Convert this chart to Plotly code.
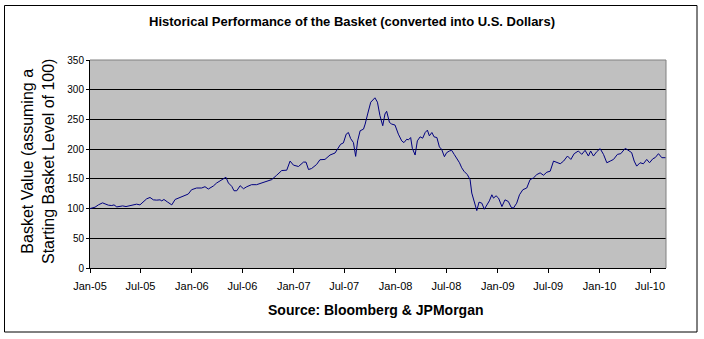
import plotly.graph_objects as go

dates = [
    "2005-01-01", "2005-01-19", "2005-01-31", "2005-02-15", "2005-02-24", "2005-03-08",
    "2005-03-20", "2005-03-28", "2005-04-07", "2005-04-19", "2005-04-28", "2005-05-10",
    "2005-05-24", "2005-06-05", "2005-06-17", "2005-06-29", "2005-07-11", "2005-07-23",
    "2005-08-04", "2005-08-16", "2005-08-28", "2005-09-09", "2005-09-15", "2005-09-23",
    "2005-10-05", "2005-10-21", "2005-11-02", "2005-11-14", "2005-12-02", "2005-12-19",
    "2005-12-31", "2006-01-18", "2006-02-05", "2006-02-17", "2006-03-01", "2006-03-19",
    "2006-03-31", "2006-04-18", "2006-05-03", "2006-05-12", "2006-05-24", "2006-06-01",
    "2006-06-11", "2006-06-23", "2006-07-05", "2006-07-17", "2006-08-03", "2006-08-21",
    "2006-09-08", "2006-09-26", "2006-10-14", "2006-11-01", "2006-11-19", "2006-12-07",
    "2006-12-19", "2006-12-31", "2007-01-18", "2007-02-05", "2007-02-14", "2007-02-23",
    "2007-03-06", "2007-03-24", "2007-04-05", "2007-04-23", "2007-05-11", "2007-05-29",
    "2007-06-10", "2007-06-18", "2007-06-28", "2007-07-08", "2007-07-16", "2007-07-24",
    "2007-08-03", "2007-08-11", "2007-08-18", "2007-08-27", "2007-09-08", "2007-09-14",
    "2007-09-23", "2007-10-04", "2007-10-19", "2007-10-28", "2007-11-06", "2007-11-16",
    "2007-11-24", "2007-11-30", "2007-12-10", "2007-12-18", "2007-12-30", "2008-01-11",
    "2008-01-23", "2008-01-31", "2008-02-10", "2008-02-16", "2008-02-24", "2008-03-01",
    "2008-03-11", "2008-03-19", "2008-03-29", "2008-04-07", "2008-04-16", "2008-04-24",
    "2008-05-01", "2008-05-10", "2008-05-18", "2008-05-28", "2008-06-06", "2008-06-14",
    "2008-06-24", "2008-07-02", "2008-07-12", "2008-07-20", "2008-07-29", "2008-08-07",
    "2008-08-17", "2008-08-25", "2008-09-02", "2008-09-14", "2008-09-24", "2008-09-30",
    "2008-10-08", "2008-10-18", "2008-10-26", "2008-11-05", "2008-11-14", "2008-11-23",
    "2008-12-02", "2008-12-11", "2008-12-17", "2008-12-26", "2009-01-04", "2009-01-16",
    "2009-01-27", "2009-02-08", "2009-02-18", "2009-02-26", "2009-03-10", "2009-03-20",
    "2009-04-01", "2009-04-15", "2009-04-27", "2009-05-09", "2009-05-21", "2009-06-02",
    "2009-06-14", "2009-06-26", "2009-07-08", "2009-07-20", "2009-08-01", "2009-08-13",
    "2009-08-25", "2009-09-08", "2009-09-20", "2009-10-02", "2009-10-17", "2009-10-29",
    "2009-11-10", "2009-11-22", "2009-11-30", "2009-12-10", "2009-12-22", "2010-01-03",
    "2010-01-15", "2010-01-27", "2010-02-08", "2010-02-20", "2010-03-06", "2010-03-18",
    "2010-04-03", "2010-04-15", "2010-04-26", "2010-05-05", "2010-05-14", "2010-05-26",
    "2010-06-07", "2010-06-19", "2010-06-29", "2010-07-11", "2010-07-19", "2010-07-31",
    "2010-08-12", "2010-08-26",
]

basket_values = [
    100.0, 102.3, 106.2, 109.6, 107.9, 105.7,
    105.1, 106.2, 102.8, 103.4, 104.5, 103.4,
    105.1, 106.2, 107.4, 106.2, 111.9, 116.4,
    118.7, 114.7, 114.2, 114.7, 113.0, 115.3,
    111.3, 106.2, 115.3, 117.6, 119.8, 124.4,
    131.7, 134.6, 134.6, 136.8, 132.9, 138.0,
    143.1, 148.2, 152.7, 143.1, 137.4, 130.0,
    130.0, 138.5, 133.4, 136.8, 140.2, 140.2,
    143.1, 145.9, 148.7, 156.1, 164.0, 164.6,
    179.9, 173.1, 170.8, 178.2, 178.2, 165.7,
    167.4, 174.2, 182.2, 182.7, 190.1, 193.5,
    201.4, 208.2, 210.5, 225.2, 228.0, 217.8,
    211.0, 187.8, 213.9, 230.9, 233.7, 242.2,
    259.2, 279.0, 286.4, 279.0, 256.4, 239.4,
    259.2, 263.7, 245.0, 242.2, 240.5, 225.2,
    213.9, 211.0, 216.7, 215.6, 219.5, 201.4,
    190.1, 213.9, 220.7, 218.4, 228.0, 232.0,
    222.4, 228.0, 220.7, 219.5, 203.7, 199.7,
    187.3, 194.1, 196.9, 198.0, 191.2, 184.4,
    177.1, 168.6, 162.9, 157.2, 148.7, 126.1,
    114.7, 96.6, 110.8, 109.1, 98.9, 106.2,
    113.0, 123.2, 117.6, 121.5, 117.6, 103.4,
    114.7, 111.9, 102.3, 100.6, 109.1, 123.2,
    131.7, 134.6, 148.7, 151.6, 157.2, 160.1,
    156.1, 161.2, 162.9, 179.9, 177.1, 175.4,
    179.9, 188.4, 182.7, 192.4, 196.9, 191.2,
    198.0, 188.4, 196.9, 188.4, 195.8, 200.8,
    191.2, 177.1, 179.9, 182.7, 191.2, 192.4,
    201.4, 196.9, 194.1, 179.9, 171.4, 177.1,
    175.4, 182.7, 177.1, 183.9, 185.6, 192.4,
    185.6, 185.6,
]

title_text = "<b>Historical Performance of the Basket (converted into U.S. Dollars)</b>"
ytitle_text = "Basket Value (assuming a<br>Starting Basket Level of 100)"
source_text = "<b>Source: Bloomberg &amp; JPMorgan</b>"

FONT = "Liberation Sans, Arial, sans-serif"
NARROW = "Liberation Sans Narrow, Arial Narrow, Liberation Sans, sans-serif"

fig = go.Figure()
fig.add_trace(go.Scatter(
    x=dates, y=basket_values, mode="lines",
    line=dict(color="#000080", width=1),
    showlegend=False, hoverinfo="skip",
))

W, H = 704, 339
L, R, T, B = 90, 38, 60, 71
pw, ph = W - L - R, H - T - B

def px(xp):
    return (xp - L) / pw

def py(yp):
    return (H - B - yp) / ph

fig.update_layout(
    width=W, height=H,
    margin=dict(l=L, r=R, t=T, b=B, pad=0),
    paper_bgcolor="white",
    plot_bgcolor="#C0C0C0",
    font=dict(family=FONT, color="black"),
    xaxis=dict(
        type="date",
        range=["2005-01-01", "2010-08-27"],
        tick0="2005-01-01", dtick="M6", tickformat="%b-%y",
        ticks="outside", ticklen=4, tickcolor="black", tickwidth=1,
        showgrid=False, zeroline=False,
        showline=True, linecolor="black", linewidth=1,
        tickfont=dict(size=11, family=FONT, color="black"),
        ticklabelstandoff=4,
    ),
    yaxis=dict(
        range=[0, 350], tick0=0, dtick=50,
        ticks="outside", ticklen=3, tickcolor="black", tickwidth=1,
        showgrid=True, gridcolor="black", gridwidth=1,
        zeroline=False,
        showline=True, linecolor="black", linewidth=1,
        tickfont=dict(size=10, family=FONT, color="black"),
    ),
)

# plot-area top/right border (gray)
fig.add_shape(type="line", xref="paper", yref="paper", x0=0, x1=1, y0=1, y1=1,
              line=dict(color="#808080", width=1), layer="above")
fig.add_shape(type="line", xref="paper", yref="paper", x0=1, x1=1, y0=0, y1=1,
              line=dict(color="#808080", width=1), layer="above")
# outer chart border
fig.add_shape(type="rect", xref="paper", yref="paper",
              x0=px(4.5), x1=px(697), y0=py(332), y1=py(5.5),
              line=dict(color="black", width=1), fillcolor="rgba(0,0,0,0)", layer="above")

fig.add_annotation(text=title_text, xref="paper", yref="paper",
                   x=px(352), y=py(21), xanchor="center", yanchor="middle",
                   showarrow=False, font=dict(size=13, family=NARROW, color="black"))
fig.add_annotation(text=ytitle_text, xref="paper", yref="paper",
                   x=px(38), y=py(162), xanchor="center", yanchor="middle",
                   textangle=-90, showarrow=False,
                   font=dict(size=16, family=FONT, color="black"))
fig.add_annotation(text=source_text, xref="paper", yref="paper",
                   x=px(375), y=py(310), xanchor="center", yanchor="middle",
                   showarrow=False, font=dict(size=14, family=FONT, color="black"))

fig.write_html("out.html")
